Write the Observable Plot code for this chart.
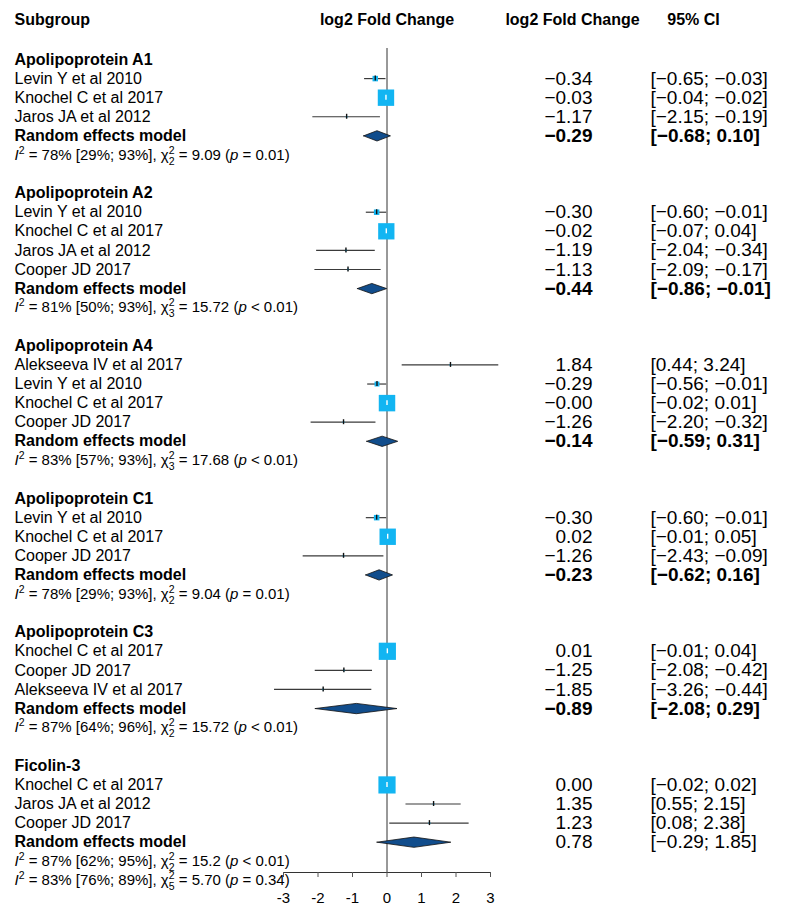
<!DOCTYPE html>
<html>
<head>
<meta charset="utf-8">
<script src="https://cdn.jsdelivr.net/npm/d3@7"></script>
<script src="https://cdn.jsdelivr.net/npm/@observablehq/plot@0.6"></script>
<style>
  html, body { margin: 0; padding: 0; background: #fff; overflow: hidden; }
  #chart svg { display: block; }
</style>
</head>
<body>
<div id="chart"></div>
<script>
// ---------- data ----------
const groups = ["Apolipoprotein A1", "Apolipoprotein A2", "Apolipoprotein A4", "Apolipoprotein C1", "Apolipoprotein C3", "Ficolin-3"];

const studyGroup = [0, 0, 0, 1, 1, 1, 1, 2, 2, 2, 2, 3, 3, 3, 4, 4, 4, 5, 5, 5];
const studyName = [
  "Levin Y et al 2010", "Knochel C et al 2017", "Jaros JA et al 2012",
  "Levin Y et al 2010", "Knochel C et al 2017", "Jaros JA et al 2012", "Cooper JD 2017",
  "Alekseeva IV et al 2017", "Levin Y et al 2010", "Knochel C et al 2017", "Cooper JD 2017",
  "Levin Y et al 2010", "Knochel C et al 2017", "Cooper JD 2017",
  "Knochel C et al 2017", "Cooper JD 2017", "Alekseeva IV et al 2017",
  "Knochel C et al 2017", "Jaros JA et al 2012", "Cooper JD 2017"
];
const studyEst = [-0.34, -0.03, -1.17, -0.30, -0.02, -1.19, -1.13, 1.84, -0.29, -0.00, -1.26, -0.30, 0.02, -1.26, 0.01, -1.25, -1.85, 0.00, 1.35, 1.23];
const studyLo  = [-0.65, -0.04, -2.15, -0.60, -0.07, -2.04, -2.09, 0.44, -0.56, -0.02, -2.20, -0.60, -0.01, -2.43, -0.01, -2.08, -3.26, -0.02, 0.55, 0.08];
const studyHi  = [-0.03, -0.02, -0.19, -0.01, 0.04, -0.34, -0.17, 3.24, -0.01, 0.01, -0.32, -0.01, 0.05, -0.09, 0.04, -0.42, -0.44, 0.02, 2.15, 2.38];
const studyWeight = [10, 89, 1, 10, 88, 1, 1, 1, 8, 90, 1, 10, 89, 1, 98, 1, 1, 98, 1, 1];

const remEst = [-0.29, -0.44, -0.14, -0.23, -0.89, 0.78];
const remLo  = [-0.68, -0.86, -0.59, -0.62, -2.08, -0.29];
const remHi  = [0.10, -0.01, 0.31, 0.16, 0.29, 1.85];

const hetI2  = [78, 81, 83, 78, 87, 87];
const hetLo  = [29, 50, 57, 29, 64, 62];
const hetHi  = [93, 93, 93, 93, 96, 95];
const hetDf  = [2, 3, 3, 2, 2, 2];
const hetChi = ["9.09", "15.72", "17.68", "9.04", "15.72", "15.2"];
const hetP   = ["= 0.01", "< 0.01", "< 0.01", "= 0.01", "< 0.01", "< 0.01"];

const overallI2 = 83, overallLo = 76, overallHi = 89, overallDf = 5, overallChi = "5.70", overallP = "= 0.34";

const xTicks = [-3, -2, -1, 0, 1, 2, 3];
const headers = ["Subgroup", "log2 Fold Change", "log2 Fold Change", "95% CI"];

// ---------- layout (row indices) ----------
const fmt = v => ((v < 0 || Object.is(v, -0)) ? "\u2212" : "") + Math.abs(v).toFixed(2);

const groupRows = [], studies = [], rems = [], hets = [];
let r = 0;
groups.forEach((g, gi) => {
  groupRows.push({row: r, label: g});
  const idx = studyGroup.map((s, i) => s === gi ? i : -1).filter(i => i >= 0);
  idx.forEach((i, k) => {
    studies.push({row: r + 1 + k, label: studyName[i], est: studyEst[i], lo: studyLo[i], hi: studyHi[i], w: studyWeight[i]});
  });
  const rr = r + idx.length + 1;
  rems.push({row: rr, gi, est: remEst[gi], lo: remLo[gi], hi: remHi[gi]});
  hets.push({row: rr + 1, key: "HET:" + hets.length, i2: hetI2[gi], lo: hetLo[gi], hi: hetHi[gi], df: hetDf[gi], chi: hetChi[gi], p: hetP[gi]});
  r = rr + 3;
});
const lastRow = hets[hets.length - 1].row + 1;
hets.push({row: lastRow, key: "HET:" + hets.length, i2: overallI2, lo: overallLo, hi: overallHi, df: overallDf, chi: overallChi, p: overallP});

const dh = 0.27;
const diamonds = rems.flatMap(d => [
  {gi: d.gi, x: d.lo, y: d.row}, {gi: d.gi, x: d.est, y: d.row - dh},
  {gi: d.gi, x: d.hi, y: d.row}, {gi: d.gi, x: d.est, y: d.row + dh},
  {gi: d.gi, x: d.lo, y: d.row}
]);

// ---------- plot ----------
const W = 786, H = 918;
const mL = 283, mR = 296;
const rowPx = 19.09, top0 = 59;
const FONT = "Liberation Sans, Arial, Helvetica, sans-serif";
const left = 14 - mL;          // label column
const estRight = 592 - mL;     // estimate column (right aligned)
const ciLeft = 650 - mL;       // CI column
const hdrY = -2.05;

const chart = Plot.plot({
  width: W, height: H,
  marginLeft: mL, marginRight: mR, marginTop: 48, marginBottom: 46,
  style: {fontFamily: FONT, background: "#fff", color: "#000"},
  x: {domain: [-3, 3]},
  y: {domain: [0, lastRow], range: [top0, top0 + lastRow * rowPx], axis: null},
  r: {type: "sqrt", domain: [0, 100], range: [0, 9.8]},
  marks: [
    Plot.ruleX([0], {stroke: "#333", strokeWidth: 1}),
    Plot.frame({anchor: "bottom", stroke: "#333"}),
    Plot.axisX({ticks: xTicks, tickFormat: d => String(d), tickSize: 5, tickPadding: 15, fontSize: 15, label: null, stroke: "#555"}),
    // CI lines
    Plot.ruleY(studies, {y: "row", x1: "lo", x2: "hi", stroke: "#3a3a3a", strokeWidth: 1.2}),
    // squares
    Plot.dot(studies, {x: "est", y: "row", r: "w", symbol: "square", fill: "#12B5F2", stroke: "none"}),
    // estimate ticks
    Plot.ruleX(studies, {x: "est", y1: d => d.row - 0.13, y2: d => d.row + 0.13, stroke: d => d.w > 50 ? "#fff" : "#111", strokeWidth: 1.4}),
    // diamonds
    Plot.line(diamonds, {x: "x", y: "y", z: "gi", fill: "#114D8C", stroke: "#111", strokeWidth: 0.8}),
    // headers
    Plot.text([headers[0]], {y: () => hdrY, text: d => d, frameAnchor: "left", dx: left, textAnchor: "start", fontWeight: "bold", fontSize: 16}),
    Plot.text([headers[1]], {x: () => 0, y: () => hdrY, text: d => d, textAnchor: "middle", fontWeight: "bold", fontSize: 16}),
    Plot.text([headers[2]], {y: () => hdrY, text: d => d, frameAnchor: "left", dx: 572 - mL, textAnchor: "middle", fontWeight: "bold", fontSize: 16}),
    Plot.text([headers[3]], {y: () => hdrY, text: d => d, frameAnchor: "left", dx: 693 - mL, textAnchor: "middle", fontWeight: "bold", fontSize: 16}),
    // group titles
    Plot.text(groupRows, {y: "row", text: "label", frameAnchor: "left", dx: left, textAnchor: "start", fontWeight: "bold", fontSize: 16}),
    // study labels
    Plot.text(studies, {y: "row", text: "label", frameAnchor: "left", dx: left, textAnchor: "start", fontSize: 16}),
    Plot.text(rems, {y: "row", text: () => "Random effects model", frameAnchor: "left", dx: left, textAnchor: "start", fontWeight: "bold", fontSize: 16}),
    // heterogeneity lines (rich text applied afterwards)
    Plot.text(hets, {y: "row", text: "key", frameAnchor: "left", dx: left, textAnchor: "start", fontSize: 15}),
    // estimates & CIs
    Plot.text(studies, {y: "row", text: d => fmt(d.est), frameAnchor: "left", dx: estRight, textAnchor: "end", fontSize: 19}),
    Plot.text(studies, {y: "row", text: d => `[${fmt(d.lo)}; ${fmt(d.hi)}]`, frameAnchor: "left", dx: ciLeft, textAnchor: "start", fontSize: 19}),
    Plot.text(rems.filter(d => d.gi < 5), {y: "row", text: d => fmt(d.est), frameAnchor: "left", dx: estRight, textAnchor: "end", fontSize: 19, fontWeight: "bold"}),
    Plot.text(rems.filter(d => d.gi < 5), {y: "row", text: d => `[${fmt(d.lo)}; ${fmt(d.hi)}]`, frameAnchor: "left", dx: ciLeft, textAnchor: "start", fontSize: 19, fontWeight: "bold"}),
    Plot.text(rems.filter(d => d.gi >= 5), {y: "row", text: d => fmt(d.est), frameAnchor: "left", dx: estRight, textAnchor: "end", fontSize: 19}),
    Plot.text(rems.filter(d => d.gi >= 5), {y: "row", text: d => `[${fmt(d.lo)}; ${fmt(d.hi)}]`, frameAnchor: "left", dx: ciLeft, textAnchor: "start", fontSize: 19})
  ]
});

// rich text for I^2 / chi^2 lines
d3.select(chart).selectAll("text").each(function () {
  const s = this.textContent;
  if (!s.startsWith("HET:")) return;
  const h = hets[+s.slice(4)];
  const t = d3.select(this);
  t.text(null);
  t.append("tspan").attr("font-style", "italic").text("I");
  t.append("tspan").attr("font-size", "10.5px").attr("dy", "-6").text("2");
  t.append("tspan").attr("dy", "6").text(` = ${h.i2}% [${h.lo}%; ${h.hi}%], \u03C7`);
  t.append("tspan").attr("font-size", "10.5px").attr("dy", "-6").text("2");
  t.append("tspan").attr("font-size", "10.5px").attr("dx", "-0.556em").attr("dy", "11").text(h.df);
  t.append("tspan").attr("dy", "-5").text(` = ${h.chi} (`);
  t.append("tspan").attr("font-style", "italic").text("p");
  t.append("tspan").text(` ${h.p})`);
});

document.getElementById("chart").appendChild(chart);
</script>
</body>
</html>
